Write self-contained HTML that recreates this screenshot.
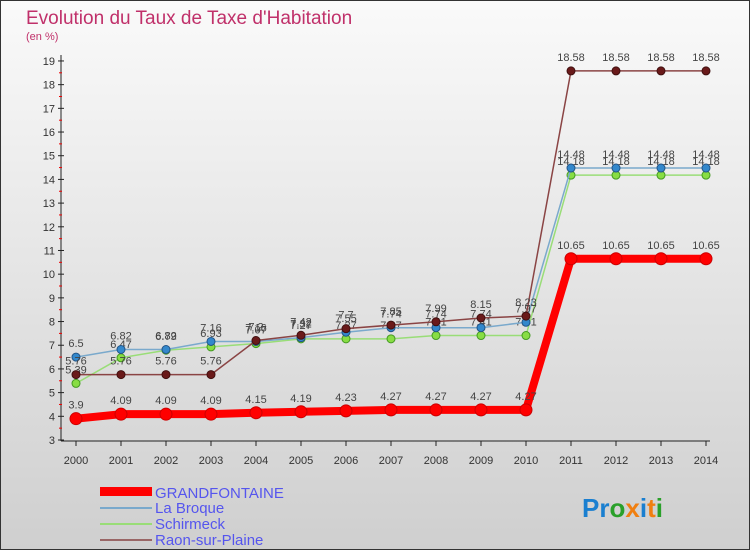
<!DOCTYPE html>
<html><head><meta charset="utf-8"><style>
body{margin:0;width:750px;height:550px;overflow:hidden;font-family:"Liberation Sans",sans-serif}
</style></head><body>
<svg id="c" width="750" height="550" xmlns="http://www.w3.org/2000/svg">
<defs><linearGradient id="bg" x1="0" y1="0" x2="0" y2="1"><stop offset="0" stop-color="#fafafa"/><stop offset="1" stop-color="#cfcfcf"/></linearGradient></defs>
<rect x="0.5" y="0.5" width="749" height="549" fill="url(#bg)" stroke="#333"/>
<text x="26" y="24" font-size="19" fill="#c0306a">Evolution du Taux de Taxe d'Habitation</text>
<text x="26" y="40" font-size="11" fill="#c0306a">(en %)</text>
<g id="axes"></g><g id="series"></g>
<g>
<rect x="100" y="487" width="52" height="9" fill="#f00"/>
<text x="155" y="498" font-size="15" fill="#5555ee">GRANDFONTAINE</text>
<line x1="100" y1="508" x2="152" y2="508" stroke="#7aa9cc" stroke-width="2"/>
<text x="155" y="513" font-size="15" fill="#5555ee">La Broque</text>
<line x1="100" y1="524" x2="152" y2="524" stroke="#99dd77" stroke-width="2"/>
<text x="155" y="529" font-size="15" fill="#5555ee">Schirmeck</text>
<line x1="100" y1="540" x2="152" y2="540" stroke="#996666" stroke-width="2"/>
<text x="155" y="545" font-size="15" fill="#5555ee">Raon-sur-Plaine</text>
</g>
<text x="582" y="517" font-size="26" font-weight="bold"><tspan fill="#1a7fd0">Pr</tspan><tspan fill="#2aa02a">o</tspan><tspan fill="#f07f10">x</tspan><tspan fill="#1a7fd0">i</tspan><tspan fill="#f07f10">t</tspan><tspan fill="#2aa02a">i</tspan></text>
</svg>
<script>
const years=["2000","2001","2002","2003","2004","2005","2006","2007","2008","2009","2010","2011","2012","2013","2014"];
const yTicks=[3,4,5,6,7,8,9,10,11,12,13,14,15,16,17,18,19];
const grandfontaine=[3.9,4.09,4.09,4.09,4.15,4.19,4.23,4.27,4.27,4.27,4.27,10.65,10.65,10.65,10.65];
const laBroque=[6.5,6.82,6.82,7.16,7.16,7.32,7.55,7.74,7.74,7.74,7.97,14.48,14.48,14.48,14.48];
const schirmeck=[5.39,6.47,6.79,6.93,7.07,7.27,7.27,7.27,7.41,7.41,7.41,14.18,14.18,14.18,14.18];
const raon=[5.76,5.76,5.76,5.76,7.2,7.42,7.7,7.85,7.99,8.15,8.23,18.58,18.58,18.58,18.58];
const NS="http://www.w3.org/2000/svg";
const X=i=>76+i*45, Y=v=>440-(v-3)*23.69;
function mk(t,a,p){const e=document.createElementNS(NS,t);for(const k in a)e.setAttribute(k,a[k]);p.appendChild(e);return e;}
const ax=document.getElementById('axes');
let l=mk('line',{x1:61,y1:55,x2:61,y2:441,stroke:'#222'},ax);

l=mk('line',{x1:61,y1:441,x2:710,y2:441,stroke:'#222'},ax);

yTicks.forEach(v=>{const y=Y(v);
 mk('line',{x1:58,y1:y,x2:64,y2:y,stroke:'#222'},ax);
 if(v<19)mk('line',{x1:59,y1:y-11.85,x2:62,y2:y-11.85,stroke:'#e00'},ax);
 const t=mk('text',{x:55,y:y+4,'font-size':11,'text-anchor':'end',fill:'#333'},ax);t.textContent=v;
 });
years.forEach((yr,i)=>{const x=X(i);
 mk('line',{x1:x,y1:441,x2:x,y2:446,stroke:'#222'},ax);
 const t=mk('text',{x:x,y:464,'font-size':11,'text-anchor':'middle',fill:'#333'},ax);t.textContent=yr;
 });
const sg=document.getElementById('series');
function draw(data,name,color,w,dot,dotStroke,r){
 const g=mk('g',{},sg);
 mk('polyline',{points:data.map((v,i)=>X(i)+','+Y(v)).join(' '),fill:'none',stroke:color,'stroke-width':w,'stroke-linejoin':'round'},g);
 data.forEach((v,i)=>{const c=mk('circle',{cx:X(i),cy:Y(v),r:r,fill:dot,stroke:dotStroke},g);
  
  const t=mk('text',{x:X(i),y:Y(v)-10,'font-size':11,'text-anchor':'middle',fill:'#444'},g);t.textContent=v;
  });
}
draw(schirmeck,'schirmeck','#99dd77',1.5,'#88dd44','#449922',4);
draw(laBroque,'la-broque','#7aa9cc',1.5,'#3388cc','#225588',4);
draw(raon,'raon-sur-plaine','#8a4444',1.5,'#6a1a1a','#401010',4);
draw(grandfontaine,'grandfontaine','#ff0000',8,'#ff0000','#cc0000',6);
</script>
</body></html>
